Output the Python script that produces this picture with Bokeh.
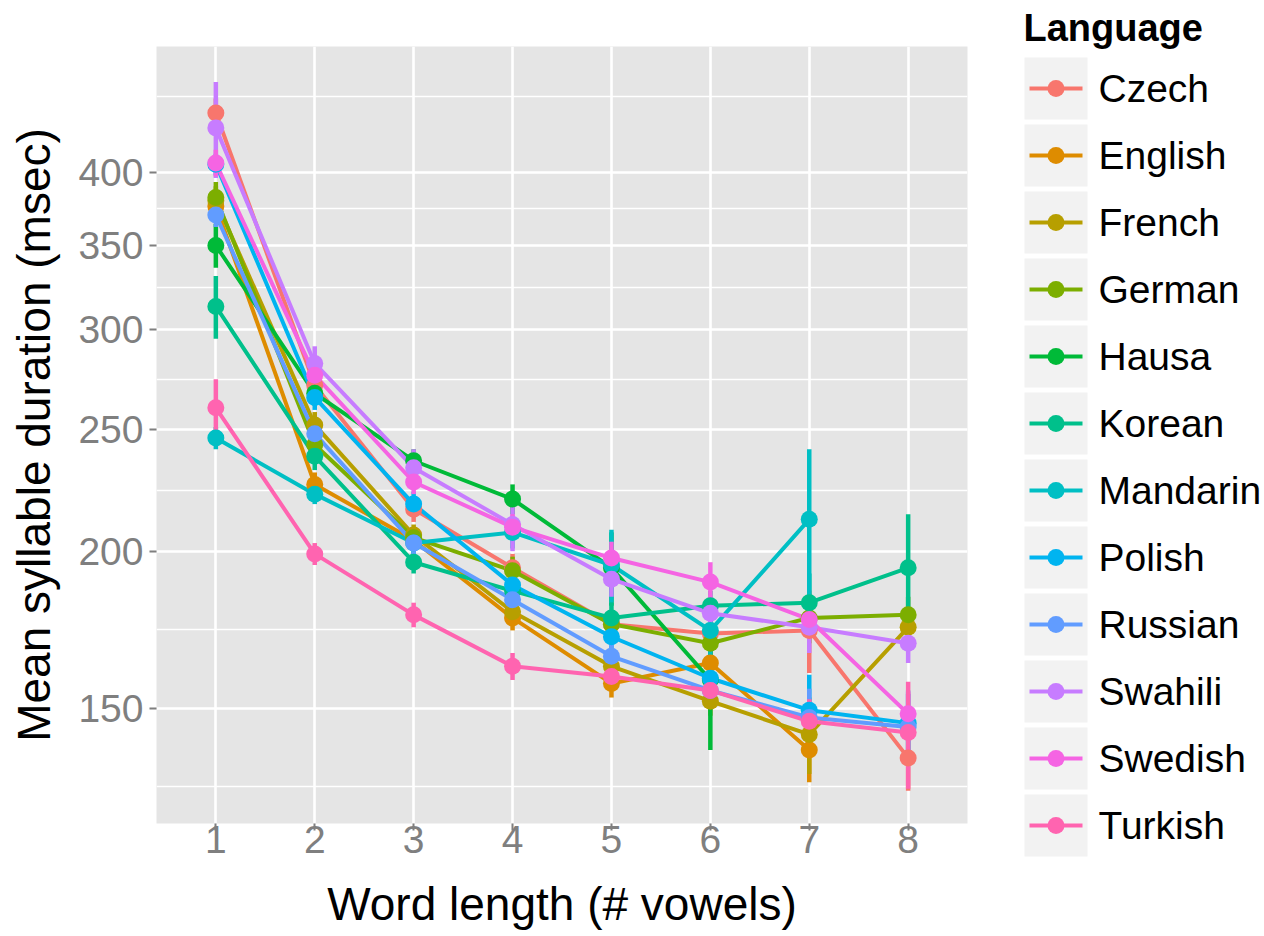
from bokeh.plotting import figure
from bokeh.models import Range1d, FixedTicker, NumeralTickFormatter
from bokeh.layouts import row
from bokeh.embed import file_html
from bokeh.resources import INLINE
from bokeh.core.properties import value

languages = ["Czech", "English", "French", "German", "Hausa", "Korean",
             "Mandarin", "Polish", "Russian", "Swahili", "Swedish", "Turkish"]
colors = ["#F8766D", "#DE8C00", "#B79F00", "#7CAE00", "#00BA38", "#00C08B",
          "#00BFC4", "#00B4F0", "#619CFF", "#C77CFF", "#F564E3", "#FF64B0"]

word_length = [1, 2, 3, 4, 5, 6, 7, 8]

czech    = [446, 271, 216, 194, 175, 172, 173, 137]
english  = [376, 226, 204, 177, 157, 163, 139]
french   = [380, 252, 206, 179, 162, 152, 143, 174]
german   = [382, 243, 205, 193, 175, 169, 177, 178]
hausa    = [350, 267, 236, 220, 194, 158]
korean   = [313, 238, 196, 186, 177, 181, 182, 194]
mandarin = [246, 222, 203, 207, 195, 173, 212]
polish   = [406, 265, 218, 188, 171, 158.5, 149.5, 146]
russian  = [370, 248, 203, 183, 165, 155, 147.5, 145]
swahili  = [434, 282, 233, 210, 190, 178.5, 174, 169]
swedish  = [407, 276, 227, 209, 197.5, 189, 176.5, 148.5]
turkish  = [260, 199, 178, 162, 159, 155, 146.5, 143.5]

czech_se    = [12, 6, 5, 5, 4, 5, 13, 8]
english_se  = [10, 5, 4, 4, 4, 5, 8]
french_se   = [10, 6, 4, 4, 4, 4, 10, 6]
german_se   = [11, 6, 4, 5, 4, 5, 8, 6]
hausa_se    = [14, 6, 5, 6, 13, 19]
korean_se   = [18, 6, 4, 4, 5, 5, 10, 20]
mandarin_se = [5, 4, 4, 6, 13, 8, 29]
polish_se   = [8, 6, 5, 4, 4, 5, 10, 8]
russian_se  = [8, 5, 4, 4, 4, 4, 8, 10]
swahili_se  = [38, 9, 8, 10, 6, 6, 8, 6]
swedish_se  = [10, 8, 5, 5, 6, 7, 6, 6]
turkish_se  = [14, 4, 4, 4, 4, 4, 6, 14]

means = [czech, english, french, german, hausa, korean, mandarin, polish,
         russian, swahili, swedish, turkish]
errors = [czech_se, english_se, french_se, german_se, hausa_se, korean_se,
          mandarin_se, polish_se, russian_se, swahili_se, swedish_se, turkish_se]

y_major = [150, 200, 250, 300, 350, 400]
y_minor = [129.9, 173.2, 223.6, 273.9, 324.0, 374.2, 460.0]

FONT = "Liberation Sans"

p = figure(width=1000, height=936, y_axis_type="log",
           x_range=Range1d(0.4, 8.6), y_range=Range1d(121.5, 503.7),
           output_backend="svg", toolbar_location=None,
           min_border_left=156, min_border_right=33,
           min_border_top=46, min_border_bottom=113)
p.background_fill_color = "#E5E5E5"
p.border_fill_color = "white"
p.outline_line_color = None

p.xaxis.ticker = FixedTicker(ticks=word_length)
p.yaxis.ticker = FixedTicker(ticks=y_major, minor_ticks=y_minor)
p.yaxis.formatter = NumeralTickFormatter(format="0")

for ax in [p.xaxis[0], p.yaxis[0]]:
    ax.axis_line_color = None
    ax.major_tick_line_color = "#7F7F7F"
    ax.major_tick_line_width = 2
    ax.major_tick_out = 7
    ax.major_tick_in = 0
    ax.minor_tick_line_color = None
    ax.major_label_text_font = FONT
    ax.major_label_text_font_size = "39px"
    ax.major_label_text_color = "#7F7F7F"
    ax.axis_label_text_font = FONT
    ax.axis_label_text_font_size = "46px"
    ax.axis_label_text_font_style = "normal"
    ax.axis_label_text_color = "black"

p.xaxis.major_label_standoff = -5
p.xaxis.axis_label_standoff = 22
p.yaxis.major_label_standoff = 6
p.yaxis.axis_label_standoff = 15

p.xaxis.axis_label = "Word length (# vowels)"
p.yaxis.axis_label = "Mean syllable duration (msec)"

p.xgrid.grid_line_color = "white"
p.xgrid.grid_line_width = 2.6
p.ygrid.grid_line_color = "white"
p.ygrid.grid_line_width = 2.6
p.ygrid.minor_grid_line_color = "white"
p.ygrid.minor_grid_line_width = 1.3

for m, c in zip(means, colors):
    xs = word_length[:len(m)]
    p.line(xs, m, line_color=c, line_width=4)

for m, e, c in zip(means, errors, colors):
    xs = word_length[:len(m)]
    lo = [a - b for a, b in zip(m, e)]
    hi = [a + b for a, b in zip(m, e)]
    p.segment(x0=xs, y0=lo, x1=xs, y1=hi, line_color=c, line_width=4.5)

for m, c in zip(means, colors):
    xs = word_length[:len(m)]
    p.scatter(xs, m, size=17, fill_color=c, line_color=c, line_width=0)

# legend panel
leg = figure(width=264, height=936, x_range=Range1d(1000, 1264),
             y_range=Range1d(936, 0), output_backend="svg",
             toolbar_location=None, min_border=0)
leg.outline_line_color = None
leg.axis.visible = False
leg.grid.visible = False
try:
    leg.frame_align = False
    p.frame_align = False
except Exception:
    pass

n = len(languages)
key_top = [57 + 67 * i for i in range(n)]
key_mid = [t + 31 for t in key_top]
leg.quad(left=[1024] * n, right=[1087] * n, top=key_top,
         bottom=[t + 62 for t in key_top], fill_color="#F2F2F2", line_color=None)
leg.segment(x0=[1029] * n, x1=[1082] * n, y0=key_mid, y1=key_mid,
            line_color=colors, line_width=4)
leg.scatter([1055.5] * n, key_mid, size=17, fill_color=colors,
            line_color=colors, line_width=0)
leg.text(x=[1098] * n, y=key_mid, text=languages, text_baseline="middle",
         text_align="left", text_font=value(FONT), text_font_size="39px",
         text_color="black")
leg.text(x=[1023], y=[27], text=["Language"], text_baseline="middle",
         text_align="left", text_font=value(FONT), text_font_size="38px",
         text_font_style="bold", text_color="black")

layout = row(p, leg)
open("out.html", "w").write(file_html(layout, INLINE))
